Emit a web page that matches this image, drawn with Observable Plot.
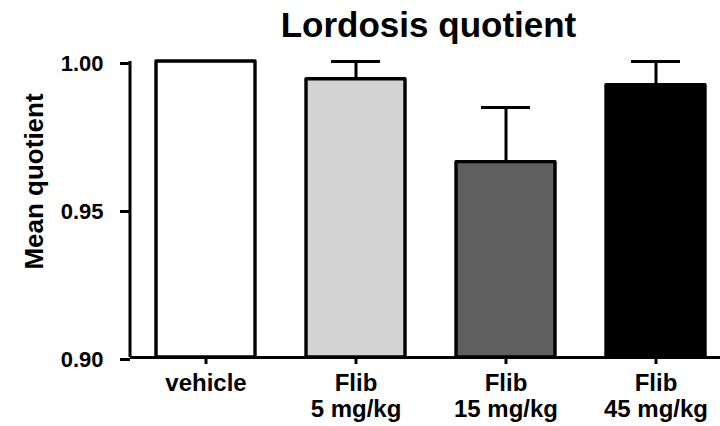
<!DOCTYPE html>
<html><head><meta charset="utf-8">
<script src="https://cdn.jsdelivr.net/npm/d3@7"></script>
<script src="https://cdn.jsdelivr.net/npm/@observablehq/plot@0.6"></script>
<style>html,body{margin:0;padding:0;background:#fff} svg{display:block}</style>
</head><body><div id="chart"></div>
<script>
const categories = ["vehicle", "Flib\n5 mg/kg", "Flib\n15 mg/kg", "Flib\n45 mg/kg"];
const means = [1.000, 0.994, 0.966, 0.992];
const errors = [0, 0.006, 0.0185, 0.008];
const fills = ["#ffffff", "#d3d3d3", "#5f5f5f", "#000000"];
const yTicks = [0.90, 0.95, 1.00];
const title = "Lordosis quotient";
const yLabel = "Mean quotient";

const data = categories.map((c, i) => ({cat: c, mean: means[i], upper: means[i] + errors[i], err: errors[i], fill: fills[i]}));
const font = "'Liberation Sans', Arial, Helvetica, sans-serif";

const yAxisLine = (index, scales, values, dimensions) => {
  const y = scales.y;
  const svg = d3.create("svg:g");
  svg.append("line")
    .attr("x1", dimensions.marginLeft).attr("x2", dimensions.marginLeft)
    .attr("y1", y(yTicks[0])).attr("y2", y(yTicks[yTicks.length - 1]))
    .attr("stroke", "black").attr("stroke-width", 3);
  return svg.node();
};

const chart = Plot.plot({
  width: 720, height: 426,
  marginLeft: 130, marginRight: 0, marginTop: 61, marginBottom: 69,
  style: {fontFamily: font, fontWeight: "bold", fontSize: "22px", background: "white", color: "black", overflow: "visible"},
  x: {domain: categories, range: [103, 758], padding: 0.34, label: null},
  y: {domain: [0.90, 1.00], label: null},
  color: {type: "identity"},
  marks: [
    Plot.barY(data, {x: "cat", y1: yTicks[0], y2: "mean", fill: "fill", stroke: "black", strokeWidth: 3.4, strokeLinejoin: "round"}),
    Plot.ruleX(data.filter(d => d.err > 0), {x: "cat", y1: "mean", y2: "upper", stroke: "black", strokeWidth: 3}),
    Plot.tickY(data.filter(d => d.err > 0), {x: "cat", y: "upper", stroke: "black", strokeWidth: 3, insetLeft: 25, insetRight: 25}),
    Plot.ruleY([yTicks[0]], {stroke: "black", strokeWidth: 3}),
    yAxisLine,
    Plot.axisY({ticks: yTicks, tickFormat: d3.format(".2f"), tickSize: 10, tickPadding: 17, fontSize: 22, strokeWidth: 3, dy: 2, label: null}),
    Plot.axisX({tickSize: 7, tickPadding: 9, fontSize: 24, strokeWidth: 3, lineHeight: 1.05, label: null}),
    Plot.text([title], {frameAnchor: "top", lineAnchor: "middle", textAnchor: "middle", dy: -36, dx: 3, fontSize: 35, fontWeight: "bold"}),
    Plot.text([yLabel], {frameAnchor: "left", textAnchor: "middle", lineAnchor: "middle", rotate: -90, dx: -96, dy: -28, fontSize: 26, fontWeight: "bold"})
  ]
});
document.getElementById("chart").appendChild(chart);
</script>
</body></html>
